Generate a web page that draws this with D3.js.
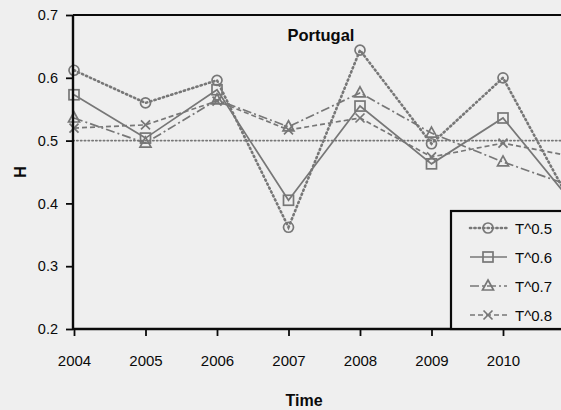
<!DOCTYPE html>
<html>
<head>
<meta charset="utf-8">
<script src="https://cdn.jsdelivr.net/npm/d3@7"></script>
<style>
  html, body { margin: 0; padding: 0; background: #efefef; }
  svg { display: block; font-family: "Liberation Sans", Arial, sans-serif; }
</style>
</head>
<body>
<svg id="chart" width="561" height="410"></svg>
<script>
// Hurst exponent estimates for Portugal, by year and time-scaling power
const years = [2004, 2005, 2006, 2007, 2008, 2009, 2010, 2011];
const seriesNames = ["T^0.5", "T^0.6", "T^0.7", "T^0.8"];
const hT05 = [0.612, 0.560, 0.596, 0.362, 0.644, 0.495, 0.600, 0.390];
const hT06 = [0.573, 0.504, 0.581, 0.405, 0.555, 0.463, 0.536, 0.397];
const hT07 = [0.536, 0.496, 0.565, 0.522, 0.576, 0.512, 0.466, 0.426];
const hT08 = [0.520, 0.525, 0.563, 0.517, 0.536, 0.474, 0.496, 0.474];
const yTicks = [0.2, 0.3, 0.4, 0.5, 0.6, 0.7];
const xTicks = [2004, 2005, 2006, 2007, 2008, 2009, 2010];
const refLevel = 0.5;

const svg = d3.select("#chart");
const plotLeft = 73, plotTop = 15, plotBottom = 329, plotRight = 640;

const x = d3.scaleLinear().domain([2004, 2010]).range([74, 503]);
const y = d3.scaleLinear().domain([0.2, 0.7]).range([plotBottom, plotTop]);

const grey = "#777777";
const ink = "#0a0a0a";
const styles = [
  { values: hT05, dash: "1.2,3.2", width: 2.6, cap: "round", marker: "circle" },
  { values: hT06, dash: null, width: 1.7, cap: "butt", marker: "square" },
  { values: hT07, dash: "9,3,2,3", width: 1.7, cap: "butt", marker: "triangle" },
  { values: hT08, dash: "5,3", width: 1.7, cap: "butt", marker: "cross" }
];

// reference line at H = 0.5
svg.append("line")
  .attr("x1", plotLeft).attr("x2", plotRight)
  .attr("y1", y(refLevel)).attr("y2", y(refLevel))
  .attr("stroke", grey).attr("stroke-width", 1.8)
  .attr("stroke-dasharray", "1.2,2.6").attr("stroke-linecap", "round");

const line = d3.line().x((d, i) => x(years[i])).y(d => y(d));

function drawMarker(g, type, cx, cy) {
  const s = g.append("g").attr("transform", `translate(${cx},${cy})`)
    .attr("fill", "none").attr("stroke", grey).attr("stroke-width", 1.7);
  if (type === "circle") s.append("circle").attr("r", 5);
  else if (type === "square") s.append("rect").attr("x", -5).attr("y", -5).attr("width", 10).attr("height", 10);
  else if (type === "triangle") s.append("path").attr("d", "M0,-6L5.5,4L-5.5,4Z");
  else s.append("path").attr("d", "M-4.5,-4.5L4.5,4.5M-4.5,4.5L4.5,-4.5");
}

styles.forEach(st => {
  svg.append("path")
    .datum(st.values)
    .attr("d", line)
    .attr("fill", "none")
    .attr("stroke", grey)
    .attr("stroke-width", st.width)
    .attr("stroke-linecap", st.cap)
    .attr("stroke-dasharray", st.dash);
  const mg = svg.append("g");
  st.values.forEach((v, i) => drawMarker(mg, st.marker, x(years[i]), y(v)));
});

// frame
svg.append("line").attr("x1", plotLeft).attr("x2", plotRight).attr("y1", plotTop).attr("y2", plotTop)
  .attr("stroke", ink).attr("stroke-width", 2.2);

// axes
const yAxis = d3.axisLeft(y).tickValues(yTicks).tickFormat(d3.format(".1f")).tickSize(7).tickPadding(8);
const yg = svg.append("g").attr("transform", `translate(${plotLeft},0)`).call(yAxis);
yg.select(".domain").attr("stroke", ink).attr("stroke-width", 2.4).attr("d", `M0,${plotTop}V${plotBottom}`);
yg.selectAll(".tick line").attr("stroke", ink).attr("stroke-width", 1.8);
yg.selectAll(".tick text").attr("font-size", 14.5).attr("fill", ink);

const xAxis = d3.axisBottom(x).tickValues(xTicks).tickFormat(d3.format("d")).tickSize(7).tickPadding(19);
const xg = svg.append("g").attr("transform", `translate(0,${plotBottom})`).call(xAxis);
xg.select(".domain").attr("stroke", ink).attr("stroke-width", 2.4).attr("d", `M${plotLeft},0H${plotRight}`);
xg.selectAll(".tick line").attr("stroke", ink).attr("stroke-width", 1.8);
xg.selectAll(".tick text").attr("font-size", 15).attr("fill", ink);

// titles
svg.append("text").attr("x", 321).attr("y", 41).attr("text-anchor", "middle")
  .attr("font-size", 16.5).attr("font-weight", "bold").attr("fill", ink).text("Portugal");
svg.append("text").attr("x", 304).attr("y", 406).attr("text-anchor", "middle")
  .attr("font-size", 16).attr("font-weight", "bold").attr("fill", ink).text("Time");
svg.append("text").attr("transform", "translate(26,172) rotate(-90)").attr("text-anchor", "middle")
  .attr("font-size", 16).attr("font-weight", "bold").attr("fill", ink).text("H");

// legend
const lg = svg.append("g").attr("transform", "translate(451,211)");
lg.append("rect").attr("x", 0).attr("y", 0).attr("width", 200).attr("height", plotBottom - 211)
  .attr("fill", "#efefef").attr("stroke", ink).attr("stroke-width", 2.2);
styles.forEach((st, i) => {
  const cy = 17 + i * 29;
  lg.append("line").attr("x1", 19).attr("x2", 56).attr("y1", cy).attr("y2", cy)
    .attr("stroke", grey).attr("stroke-width", st.width)
    .attr("stroke-linecap", st.cap).attr("stroke-dasharray", st.dash);
  drawMarker(lg, st.marker, 37, cy);
  lg.append("text").attr("x", 64).attr("y", cy + 5.5).attr("font-size", 15).attr("fill", ink)
    .text(seriesNames[i]);
});
</script>
</body>
</html>
